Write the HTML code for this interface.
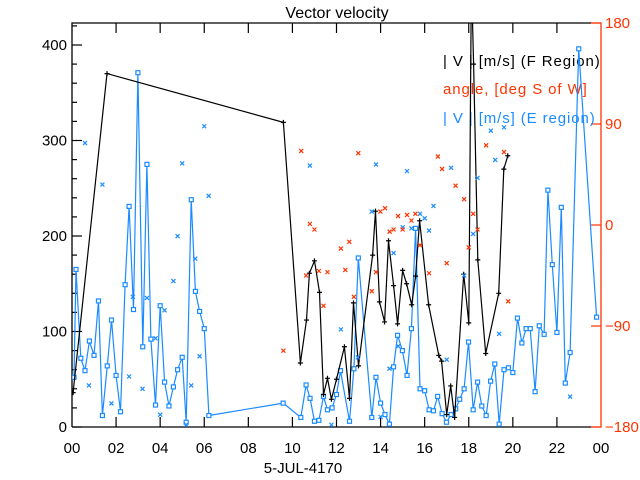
<!DOCTYPE html>
<html><head><meta charset="utf-8"><style>
html,body{margin:0;padding:0;background:#fff;}
svg{display:block;font-family:"Liberation Sans",sans-serif;}
</style></head><body>
<svg id="chart" width="640" height="480" viewBox="0 0 640 480"></svg>
<script>
// ---- data ----
const fHours=[0.05,1.59,9.59,10.36,10.64,10.77,11.00,11.23,11.41,11.59,11.77,12.00,12.36,12.59,12.77,13.00,13.64,13.77,13.95,14.18,14.36,14.59,14.77,15.00,15.18,15.41,15.59,15.77,16.18,16.64,16.77,17.00,17.18,17.36,17.77,18.00,18.12,18.22,18.41,18.77,19.36,19.59,19.77];
const fSpeed=[36,370,319,67,112,161,174,141,34,51,29,50,84,30,130,64,180,226,131,110,195,148,108,164,150,128,158,216,128,75,69,13,43,10,160,109,470,380,175,77,140,270,284];
const eHours=[0.09,0.18,0.40,0.59,0.79,1.00,1.20,1.38,1.60,1.79,2.00,2.20,2.41,2.59,2.79,2.99,3.21,3.40,3.58,3.79,4.00,4.20,4.40,4.60,4.79,5.00,5.18,5.41,5.60,5.79,6.00,6.21,9.58,10.38,10.62,10.80,11.00,11.20,11.41,11.59,11.80,12.00,12.18,12.59,12.79,12.99,13.60,13.79,14.00,14.20,14.40,14.59,14.77,14.99,15.20,15.40,15.59,15.79,16.00,16.20,16.40,16.59,16.79,16.99,17.20,17.41,17.59,17.79,17.99,18.20,18.40,18.59,18.79,18.99,19.18,19.38,19.60,19.80,20.00,20.21,20.41,20.60,20.79,21.01,21.20,21.42,21.59,21.79,22.00,22.20,22.38,22.60,22.99,23.80];
const eSpeed=[52,165,72,59,90,75,132,12,64,112,54,16,149,231,123,371,84,275,92,23,127,47,22,42,60,73,5,238,142,121,103,12,25,10,44,30,6,7,32,18,20,34,59,6,61,177,10,52,25,13,3,63,96,80,54,103,208,40,38,18,17,32,14,5,13,19,29,40,89,18,47,22,12,48,66,3,60,62,57,114,88,103,103,37,106,97,248,170,99,230,46,78,396,115];
const eAngHours=[0.59,1.38,5.00,6.00,6.20,4.79,10.79,0.77,1.79,2.59,3.20,3.40,3.79,4.20,4.00,4.60,5.18,5.41,5.59,5.79,2.76,11.77,12.20,12.97,13.60,13.79,14.40,14.59,14.80,15.00,15.20,15.40,15.79,16.00,16.20,16.40,17.00,17.20,17.79,18.20,18.40,14.00,19.00,19.20,19.60,19.38,22.60];
const eAngle=[73,36,55,88,26,-10,53,-143,-159,-135,-146,-65,-101,-76,-169,-50,-178,-143,-30,-117,-64,-178,-93,-118,12,54,-128,-25,-108,-2,48,-3,10,6,-5,17,-120,51,-45,-8,42,-171,84,58,87,-97,-153];
const fAngHours=[10.40,10.79,11.00,10.62,11.20,11.59,11.41,9.59,12.20,12.40,12.58,12.79,12.99,13.60,13.79,13.99,14.20,14.41,14.59,14.79,15.00,15.20,15.40,15.58,15.79,16.20,16.60,16.79,17.00,17.40,17.79,18.00,18.20,18.40,18.79,19.60,19.79];
const fAngle=[66,1,-4,-45,-41,-42,-72,-112,-21,-40,-15,-64,64,-59,-42,12,15,-6,-4,8,-4,9,4,10,-18,-43,61,50,-34,35,23,-20,10,-4,71,65,-68];
const xTickLabels=["00","02","04","06","08","10","12","14","16","18","20","22","00"];
const yTickLabels=["0","100","200","300","400"];
const rTickLabels=["180","90","0","-90","-180"];
const rTickValues=[180,90,0,-90,-180];

// ---- axes ----
const L=72,R=601,T=23,B=427;
const X=h=>L+(h/24)*(R-L);
const Y=v=>B-v*(B-45)/400;
const YA=a=>B-(a+180)*(B-T)/360;
const BLUE="#1a8cff",RED="#ff3300";
const svg=document.getElementById('chart');
const NS="http://www.w3.org/2000/svg";
function mk(tag,attrs,parent){const e=document.createElementNS(NS,tag);for(const k in attrs)e.setAttribute(k,attrs[k]);(parent||svg).appendChild(e);return e;}

const defs=mk('defs',{});
const cp=mk('clipPath',{id:'clip'},defs);
mk('rect',{x:L,y:T,width:R-L,height:B-T},cp);

// title
let t=mk('text',{x:337,y:18,'font-size':16,'text-anchor':'middle',fill:'#000'});
t.textContent='Vector velocity';



// frame
let fr=mk('path',{d:`M${L},${B}V${T}H${R-10}M${L},${B}H${R-10}`,stroke:'#000','stroke-width':1.3,fill:'none'});


let ra=mk('path',{d:`M${R-10},${T}H${R}V${B}H${R-10}`,stroke:RED,'stroke-width':1.3,fill:'none'});



// x ticks
xTickLabels.forEach((lab,i)=>{
  const x=X(i*2);
  if(i>0&&i<12){mk('line',{x1:x,x2:x,y1:B,y2:B-10,stroke:'#000','stroke-width':1.2});mk('line',{x1:x,x2:x,y1:T,y2:T+10,stroke:'#000','stroke-width':1.2});}
  const tx=mk('text',{x:x,y:453,'font-size':15,'text-anchor':'middle',fill:'#000'});
  tx.textContent=lab;
  
  
});
let xt=mk('text',{x:303,y:473,'font-size':15,'text-anchor':'middle',fill:'#000'});
xt.textContent='5-JUL-4170';



// left y ticks
for(let v=0;v<=420;v+=20){
  const y=Y(v);const len=(v%100===0)?10:5;
  mk('line',{x1:L,x2:L+len,y1:y,y2:y,stroke:'#000','stroke-width':1.2});
}
yTickLabels.forEach((lab,i)=>{
  const tx=mk('text',{x:67,y:Y(i*100)+5,'font-size':15,'text-anchor':'end',fill:'#000'});
  tx.textContent=lab;
  
  
});
// right ticks
rTickValues.forEach((a,i)=>{
  const y=YA(a);
  mk('line',{x1:R,x2:R-10,y1:y,y2:y,stroke:RED,'stroke-width':1.2});
  const tx=mk('text',{x:605,y:y+5,'font-size':15,fill:RED});
  tx.textContent=rTickLabels[i].replace('-','\u2212');
  
  
});

// legend
[["| V |  [m/s] (F Region)","#000",66],["angle, [deg S of W]",RED,94],["| V |  [m/s] (E region)",BLUE,123]].forEach(([s,c,y])=>{
  const tx=mk('text',{x:443,y:y,'font-size':15,fill:c,'letter-spacing':'0.9','xml:space':'preserve'});
  tx.textContent=s;
  
  
});

const g=mk('g',{'clip-path':'url(#clip)'});
// E region line
let pe=eHours.map((h,i)=>`${X(h).toFixed(1)},${Y(eSpeed[i]).toFixed(1)}`).join(' ');
let le=mk('polyline',{points:pe,fill:'none',stroke:BLUE,'stroke-width':1.2},g);


eHours.forEach((h,i)=>{
  const r=mk('rect',{x:X(h)-2,y:Y(eSpeed[i])-2,width:4,height:4,fill:'#fff',stroke:BLUE,'stroke-width':1.2},g);
  
  
});
// F region line
let pf=fHours.map((h,i)=>`${X(h).toFixed(1)},${Y(fSpeed[i]).toFixed(1)}`).join(' ');
let lf=mk('polyline',{points:pf,fill:'none',stroke:'#000','stroke-width':1.2},g);


fHours.forEach((h,i)=>{
  const x=X(h),y=Y(fSpeed[i]);
  const p=mk('path',{d:`M${x-2.5},${y}H${x+2.5}M${x},${y-2.5}V${y+2.5}`,stroke:'#000','stroke-width':1.2},g);
  
  
});
function cross(h,a,c,name){
  const x=X(h),y=YA(a);
  const p=mk('path',{d:`M${x-2},${y-2}L${x+2},${y+2}M${x-2},${y+2}L${x+2},${y-2}`,stroke:c,'stroke-width':1.2},g);
  
  
}
eAngHours.forEach((h,i)=>cross(h,eAngle[i],BLUE,'e-region-angle-point'));
fAngHours.forEach((h,i)=>cross(h,fAngle[i],RED,'f-region-angle-point'));
</script>
</body></html>
